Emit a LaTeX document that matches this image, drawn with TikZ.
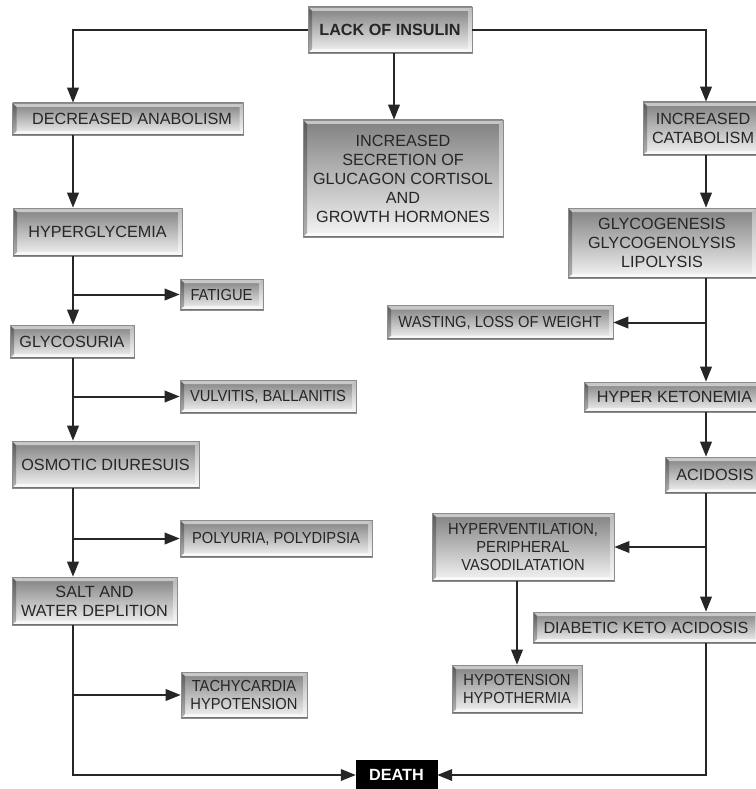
\documentclass[tikz,border=0pt]{standalone}
\usepackage{fontspec}
\setmainfont{Liberation Sans}
\newfontfamily\condfont[FakeStretch=0.92]{Liberation Sans}
\usetikzlibrary{arrows.meta,calc}
\newcommand{\boxfont}{\fontsize{16.2}{19}\selectfont}
\newcommand{\sboxfont}{\condfont\fontsize{16}{18.3}\selectfont}
\begin{document}
\begin{tikzpicture}[x=1pt,y=-1pt,
  conn/.style={line width=2pt, draw=black!85},
  arr/.style={conn, -{Triangle[length=15pt,width=11.5pt]}},
  bx/.style={draw=black!45, line width=0.6pt, top color=black!50, bottom color=black!4,
    inner sep=0pt, align=center, text=black!85, font=\boxfont,
    path picture={
      \fill[white, opacity=0.55] let \p1=(path picture bounding box.north west), \p2=(path picture bounding box.south east) in
        (\x1,\y1) -- (\x2,\y1) -- (\x2-4pt,\y1-4pt) -- (\x1+4pt,\y1-4pt) -- cycle;
      \fill[white, opacity=0.6] let \p1=(path picture bounding box.north west), \p2=(path picture bounding box.south east) in
        (\x1,\y2) -- (\x2,\y2) -- (\x2-4pt,\y2+4pt) -- (\x1+4pt,\y2+4pt) -- cycle;
      \fill[black, opacity=0.28] let \p1=(path picture bounding box.north west), \p2=(path picture bounding box.south east) in
        (\x1,\y1) -- (\x1+4pt,\y1-4pt) -- (\x1+4pt,\y2+4pt) -- (\x1,\y2) -- cycle;
      \fill[white, opacity=0.45] let \p1=(path picture bounding box.north west), \p2=(path picture bounding box.south east) in
        (\x2,\y1) -- (\x2-4pt,\y1-4pt) -- (\x2-4pt,\y2+4pt) -- (\x2,\y2) -- cycle;
      \draw[black!55, line width=1.2pt] let \p1=(path picture bounding box.north west), \p2=(path picture bounding box.south east) in
        (\x1,\y2+0.6pt) -- (\x2,\y2+0.6pt);
    }},
  sbx/.style={bx, font=\sboxfont},
  deathbox/.style={fill=black, draw=black, inner sep=0pt, text=white, font=\boxfont\bfseries}
]
\useasboundingbox (0,0) rectangle (755,789);
\fill[white] (0,0) rectangle (755,789);

% spine coordinates
\coordinate (lsp) at (73,0);
\coordinate (rsp) at (706,0);
\coordinate (msp) at (394,0);

% nodes
\node[bx, minimum width=164pt, minimum height=46pt, font=\boxfont\bfseries] (lack) at (390,30) {LACK OF INSULIN};
\node[bx, minimum width=231pt, minimum height=32pt] (dec) at (128,119) {\hspace{8pt}DECREASED ANABOLISM};
\node[bx, minimum width=200pt, minimum height=117pt] (sec) at (403,178.5) {INCREASED\\SECRETION OF\\GLUCAGON CORTISOL\\AND\\GROWTH HORMONES};
\node[bx, minimum width=120pt, minimum height=53pt] (cat) at (703,128.5) {INCREASED\\CATABOLISM};
\node[bx, minimum width=169pt, minimum height=48pt] (hyp) at (97.5,232) {HYPERGLYCEMIA};
\node[bx, minimum width=188pt, minimum height=70pt] (glyc) at (662,243) {GLYCOGENESIS\\GLYCOGENOLYSIS\\LIPOLYSIS};
\node[sbx, minimum width=83pt, minimum height=31pt] (fat) at (221.5,294.5) {FATIGUE};
\node[sbx, minimum width=226pt, minimum height=34pt] (waste) at (500,322.5) {WASTING, LOSS OF WEIGHT};
\node[bx, minimum width=124pt, minimum height=33pt] (gly) at (72,341.5) {GLYCOSURIA};
\node[sbx, minimum width=176pt, minimum height=33pt] (vul) at (268,396.5) {VULVITIS, BALLANITIS};
\node[bx, minimum width=181pt, minimum height=30pt] (hk) at (674.5,397) {HYPER KETONEMIA};
\node[bx, minimum width=187pt, minimum height=47pt] (osm) at (105.5,464.5) {OSMOTIC DIURESUIS};
\node[bx, minimum width=100pt, minimum height=36pt] (acid) at (715,475) {ACIDOSIS};
\node[sbx, minimum width=192pt, minimum height=37pt] (pol) at (276,538.5) {POLYURIA, POLYDIPSIA};
\node[sbx, minimum width=182pt, minimum height=68pt] (hv) at (523,547) {HYPERVENTILATION,\\PERIPHERAL\\VASODILATATION};
\node[bx, minimum width=165pt, minimum height=48pt] (salt) at (94.5,601) {SALT AND\\WATER DEPLITION};
\node[bx, minimum width=226pt, minimum height=31pt] (dka) at (646,627.5) {DIABETIC KETO ACIDOSIS};
\node[sbx, minimum width=130pt, minimum height=48pt] (hypo) at (517,689) {HYPOTENSION\\HYPOTHERMIA};
\node[sbx, minimum width=126pt, minimum height=46pt] (tach) at (244,695) {TACHYCARDIA\\HYPOTENSION};
\node[deathbox, minimum width=81pt, minimum height=30pt] (death) at (396.5,775) {DEATH};

% connectors from top
\draw[arr] (lack.west) -| (lsp |- dec.north);
\draw[arr] (lack.east) -| (rsp |- cat.north);
\draw[arr] (msp |- lack.south) -- (msp |- sec.north);

% left chain
\draw[arr] (lsp |- dec.south) -- (lsp |- hyp.north);
\draw[arr] (lsp |- hyp.south) -- (lsp |- gly.north);
\draw[arr] (lsp |- fat.west) -- (fat.west);
\draw[arr] (lsp |- gly.south) -- (lsp |- osm.north);
\draw[arr] (lsp |- vul.west) -- (vul.west);
\draw[arr] (lsp |- osm.south) -- (lsp |- salt.north);
\draw[arr] (lsp |- pol.west) -- (pol.west);
\draw[arr] (lsp |- salt.south) |- (death.west);
\draw[arr] (lsp |- tach.west) -- (tach.west);

% right chain
\draw[arr] (rsp |- cat.south) -- (rsp |- glyc.north);
\draw[arr] (rsp |- glyc.south) -- (rsp |- hk.north);
\draw[arr] (rsp |- waste.east) -- (waste.east);
\draw[arr] (rsp |- hk.south) -- (rsp |- acid.north);
\draw[arr] (rsp |- acid.south) -- (rsp |- dka.north);
\draw[arr] (rsp |- hv.east) -- (hv.east);
\draw[arr] (hypo.north |- hv.south) -- (hypo.north);
\draw[arr] (rsp |- dka.south) |- (death.east);
\end{tikzpicture}
\end{document}
